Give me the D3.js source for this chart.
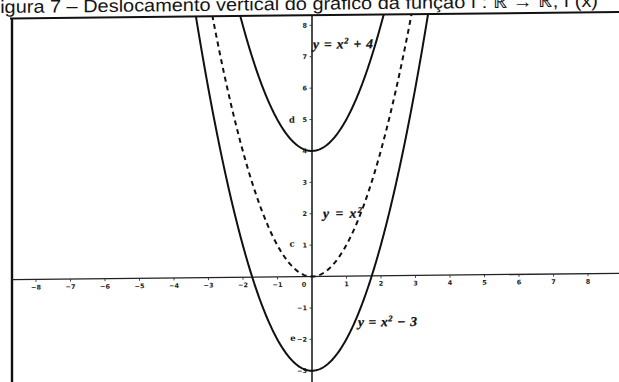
<!DOCTYPE html>
<html>
<head>
<meta charset="utf-8">
<script src="https://cdn.jsdelivr.net/npm/d3@7"></script>
<style>
  html, body { margin: 0; padding: 0; background: #fff; overflow: hidden; }
  svg { display: block; }
</style>
</head>
<body>
<svg id="chart" width="619" height="382"></svg>
<script>
// Axis ticks
const xTicks = [-8, -7, -6, -5, -4, -3, -2, -1, 0, 1, 2, 3, 4, 5, 6, 7, 8];
const yTicks = [-3, -2, -1, 1, 2, 3, 4, 5, 6, 7, 8];

// Vertical shifts k of y = x² + k, with their labels and line style
const shifts = [4, 0, -3];
const curveNames = ["y = x² + 4", "y = x²", "y = x² − 3"];
const curveDashed = [false, true, false];

// Where each curve label sits (data coordinates) and how wide it is set
const labelAnchorX = [0.03, 0.32, 1.33];
const labelAnchorY = [7.25, 1.86, -1.61];
const labelWidths = [60, 39, 59];

// Small point letters beside the y axis
const pointNames = ["d", "c", "e"];
const pointX = [-0.58, -0.58, -0.55];
const pointY = [5.0, 1.05, -1.95];

const title = "Figura 7 – Deslocamento vertical do gráfico da função f : ℝ → ℝ, f (x)";

const W = 619, H = 382;
const frameLeft = 12, frameTop = 18.5;

const x = d3.scaleLinear().domain([-8, 8]).range([36, 588]);
const y = d3.scaleLinear().domain([-3, 8]).range([374, 28.6]);

const svg = d3.select("#chart");
// the printed page sits slightly askew
const g = svg.append("g").attr("transform", "skewY(-0.6)");

// title, partly running off the top edge
g.append("text")
  .attr("x", -12).attr("y", 13)
  .attr("font-family", "Liberation Sans, Arial, sans-serif")
  .attr("font-size", 18)
  .attr("fill", "#151515")
  .attr("textLength", 610)
  .attr("lengthAdjust", "spacingAndGlyphs")
  .text(title);

// frame
g.append("line")
  .attr("x1", frameLeft - 2).attr("x2", W + 20)
  .attr("y1", frameTop).attr("y2", frameTop)
  .attr("stroke", "#111").attr("stroke-width", 2);
g.append("line")
  .attr("x1", frameLeft).attr("x2", frameLeft)
  .attr("y1", frameTop).attr("y2", H + 20)
  .attr("stroke", "#111").attr("stroke-width", 2.4);

const clip = svg.append("defs").append("clipPath").attr("id", "plot-clip");
clip.append("rect")
  .attr("x", frameLeft).attr("y", frameTop)
  .attr("width", W + 20 - frameLeft).attr("height", H + 40);

const plot = g.append("g").attr("clip-path", "url(#plot-clip)");

// x axis
const xAxis = plot.append("g").attr("transform", `translate(0,${y(0)})`);
xAxis.append("line")
  .attr("x1", frameLeft).attr("x2", W + 20)
  .attr("y1", 0).attr("y2", 0)
  .attr("stroke", "#222").attr("stroke-width", 1.3);
xAxis.selectAll("line.tick").data(xTicks.filter(d => d !== 0)).join("line")
  .attr("class", "tick")
  .attr("x1", d => x(d)).attr("x2", d => x(d))
  .attr("y1", 0).attr("y2", 2.5)
  .attr("stroke", "#333").attr("stroke-width", 0.9);
xAxis.selectAll("text").data(xTicks).join("text")
  .attr("x", d => d === 0 ? x(0) - 8 : x(d))
  .attr("y", 10)
  .attr("text-anchor", "middle")
  .attr("font-family", "DejaVu Sans, sans-serif")
  .attr("font-weight", "bold")
  .attr("font-size", 6.5)
  .attr("fill", "#222")
  .text(d => d < 0 ? "−" + Math.abs(d) : d);

// y axis
const yAxis = plot.append("g").attr("transform", `translate(${x(0)},0)`);
yAxis.append("line")
  .attr("x1", 0).attr("x2", 0)
  .attr("y1", frameTop).attr("y2", H + 20)
  .attr("stroke", "#111").attr("stroke-width", 1.5);
yAxis.selectAll("line.tick").data(yTicks).join("line")
  .attr("class", "tick")
  .attr("x1", -2.5).attr("x2", 0)
  .attr("y1", d => y(d)).attr("y2", d => y(d))
  .attr("stroke", "#333").attr("stroke-width", 0.9);
yAxis.selectAll("text").data(yTicks).join("text")
  .attr("x", -5)
  .attr("y", d => y(d))
  .attr("dy", "0.35em")
  .attr("text-anchor", "end")
  .attr("font-family", "DejaVu Sans, sans-serif")
  .attr("font-weight", "bold")
  .attr("font-size", 6.5)
  .attr("fill", "#222")
  .text(d => d < 0 ? "−" + Math.abs(d) : d);

// parabolas
const xs = d3.range(-4, 4.0001, 0.02);
const line = d3.line().x(d => x(d[0])).y(d => y(d[1])).curve(d3.curveLinear);
shifts.forEach((k, i) => {
  plot.append("path")
    .datum(xs.map(v => [v, v * v + k]))
    .attr("d", line)
    .attr("fill", "none")
    .attr("stroke", "#111")
    .attr("stroke-width", 2)
    .attr("stroke-dasharray", curveDashed[i] ? "5,4" : null);
});

// curve labels
shifts.forEach((k, i) => {
  const parts = curveNames[i].split("²");
  const t = g.append("text")
    .attr("x", x(labelAnchorX[i]))
    .attr("y", y(labelAnchorY[i]))
    .attr("font-family", "Liberation Serif, 'Times New Roman', serif")
    .attr("font-style", "italic")
    .attr("font-weight", "bold")
    .attr("font-size", 13.5)
    .attr("fill", "#111")
    .attr("stroke", "#111")
    .attr("stroke-width", 0.3)
    .attr("textLength", labelWidths[i])
    .attr("lengthAdjust", "spacing");
  t.append("tspan").text(parts[0]);
  t.append("tspan").attr("dy", -5).attr("font-size", 8.5).text("2");
  t.append("tspan").attr("dy", 5).text(parts[1]);
});

// point letters
g.selectAll("text.pt").data(pointNames).join("text")
  .attr("class", "pt")
  .attr("x", (d, i) => x(pointX[i]))
  .attr("y", (d, i) => y(pointY[i]))
  .attr("dy", "0.35em")
  .attr("text-anchor", "middle")
  .attr("font-family", "DejaVu Serif, serif")
  .attr("font-weight", "bold")
  .attr("font-size", 8.5)
  .attr("fill", "#222")
  .text(d => d);
</script>
</body>
</html>
